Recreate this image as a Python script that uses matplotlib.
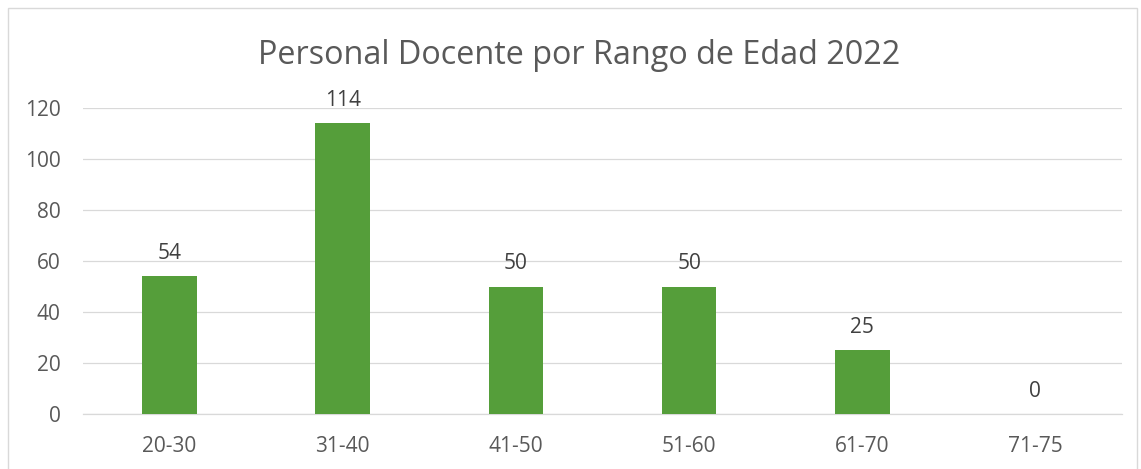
import matplotlib
matplotlib.use("Agg")
import matplotlib.pyplot as plt
from matplotlib.patches import Rectangle

categories = ["20-30", "31-40", "41-50", "51-60", "61-70", "71-75"]
values = [54, 114, 50, 50, 25, 0]
yticks = [0, 20, 40, 60, 80, 100, 120]
title = "Personal Docente por Rango de Edad 2022"

plt.rcParams['font.family'] = ['Open Sans', 'DejaVu Sans']
W, H = 1141, 469
fig = plt.figure(figsize=(W / 100, H / 100), dpi=100)
fig.patch.set_facecolor("white")

# chart border
fig.patches.append(Rectangle((7.5 / W, -0.1), (1137 - 7.5) / W, 1.1 - 8.5 / H,
                             transform=fig.transFigure, fill=False,
                             edgecolor="#D9D9D9", linewidth=1.0))

ax = fig.add_axes([83 / W, (H - 414) / H, (1122 - 83) / W, (414 - 108) / H])
x = list(range(len(categories)))
bars = ax.bar(x, values, width=0.315, color="#559E3A", zorder=3)
ax.set_xlim(-0.5, len(categories) - 0.5)
ax.set_ylim(0, 120)
ax.set_yticks(yticks)
ax.set_xticks(x)
ax.set_xticklabels(categories)
ax.grid(axis="y", color="#D9D9D9", linewidth=0.9, zorder=0)
for s in ["top", "right", "left"]:
    ax.spines[s].set_visible(False)
ax.spines["bottom"].set_color("#D9D9D9")
ax.spines["bottom"].set_linewidth(0.9)
ax.tick_params(axis="both", length=0, colors="#595959", labelsize=15)
ax.tick_params(axis="y", pad=16)
ax.tick_params(axis="x", pad=16)

for xi, v in zip(x, values):
    ax.annotate(str(v), (xi, v), xytext=(0, 9), textcoords="offset points",
                ha="center", va="bottom", fontsize=15, color="#404040")

fig.text(579 / W, 1 - 56 / H, title, ha="center", va="center",
         fontsize=23.3, color="#595959")

fig.savefig("out.png", dpi=100, facecolor="white")
